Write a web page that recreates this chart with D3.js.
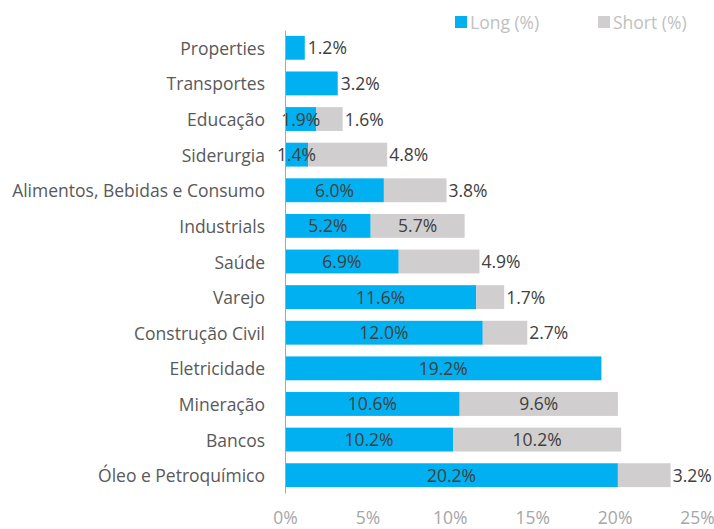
<!DOCTYPE html>
<html>
<head>
<meta charset="utf-8">
<script src="https://cdn.jsdelivr.net/npm/d3@7"></script>
<style>
  body{margin:0;background:#fff;}
  text{font-family:"Open Sans","Noto Sans",sans-serif;}
</style>
</head>
<body>
<svg id="drawing_region"></svg>
<script>
const categories = ["Properties","Transportes","Educação","Siderurgia","Alimentos, Bebidas e Consumo","Industrials","Saúde","Varejo","Construção Civil","Eletricidade","Mineração","Bancos","Óleo e Petroquímico"]
const long_values = [1.2,3.2,1.9,1.4,6.0,5.2,6.9,11.6,12.0,19.2,10.6,10.2,20.2]
const short_values = [0,0,1.6,4.8,3.8,5.7,4.9,1.7,2.7,0,9.6,10.2,3.2]
const tick_values = [0,5,10,15,20,25]
const series_names = ["Long (%)","Short (%)"]

const data = categories.map((c,i)=>({label:c,long:long_values[i],short:short_values[i]}))

const config = {
    width:714,
    height:529,
    margin:{top:30,right:17,bottom:36,left:285}
}
const colors = {long:"#00B0F0",short:"#D0CECE"}
const font_size = "17.5px"

const inner_width = config.width-config.margin.left-config.margin.right
const inner_height = config.height-config.margin.top-config.margin.bottom

const svg = d3.select("#drawing_region")
    .attr("width",config.width)
    .attr("height",config.height)

const chart = svg.append("g")
    .attr("transform",`translate(${config.margin.left},${config.margin.top})`)

const xscale = d3.scaleLinear()
    .domain([0,25])
    .range([0,inner_width])
const yscale = d3.scaleBand()
    .domain(categories)
    .range([0,inner_height])
    .paddingInner(0.33)
    .paddingOuter(0.165)

// bars
const rows = chart.selectAll(".row")
    .data(data)
    .enter()
    .append("g")
    .attr("class","row")
    .attr("transform",d=>`translate(0,${yscale(d.label)})`)

rows.append("rect")
    .attr("x",0)
    .attr("y",0)
    .attr("width",d=>xscale(d.long))
    .attr("height",yscale.bandwidth())
    .attr("fill",colors.long)

rows.filter(d=>d.short>0).append("rect")
    .attr("x",d=>xscale(d.long))
    .attr("y",0)
    .attr("width",d=>xscale(d.short))
    .attr("height",yscale.bandwidth())
    .attr("fill",colors.short)

const fmt = v=>v.toFixed(1)+"%"
const label_y = yscale.bandwidth()/2+6.5
const long_inside = d=>d.short>0 || d.long>=5

// long labels: centered, or after the bar when it is short and alone
rows.append("text")
    .attr("x",d=>long_inside(d) ? xscale(d.long/2) : xscale(d.long)+3)
    .attr("y",label_y)
    .attr("text-anchor",d=>long_inside(d) ? "middle" : "start")
    .attr("font-size",font_size)
    .attr("fill","#404040")
    .text(d=>fmt(d.long))

// short labels: centered if wide, else after the bar end
rows.filter(d=>d.short>0).append("text")
    .attr("x",d=>d.short>=5.5 ? xscale(d.long+d.short/2) : xscale(d.long+d.short)+2)
    .attr("y",label_y)
    .attr("text-anchor",d=>d.short>=5.5 ? "middle" : "start")
    .attr("font-size",font_size)
    .attr("fill","#404040")
    .text(d=>fmt(d.short))

// y axis
const yaxis = d3.axisLeft(yscale).tickSize(0).tickPadding(20)
const yaxis_group = chart.append("g").call(yaxis)
yaxis_group.select(".domain").attr("stroke","#a6a6a6").attr("stroke-width",1)
yaxis_group.selectAll("text")
    .attr("font-size",font_size)
    .attr("fill","#595959")
    .attr("font-family","'Open Sans','Noto Sans',sans-serif")
    .attr("dy","0.4em")

// x axis (labels only)
const xaxis = d3.axisBottom(xscale)
    .tickValues(tick_values)
    .tickFormat(d=>d+"%")
    .tickSize(0)
    .tickPadding(19)
const xaxis_group = chart.append("g")
    .attr("transform",`translate(0,${inner_height})`)
    .call(xaxis)
xaxis_group.select(".domain").remove()
xaxis_group.selectAll("text")
    .attr("font-size",font_size)
    .attr("fill","#a6a6a6")
    .attr("font-family","'Open Sans','Noto Sans',sans-serif")

// legend
const legend = svg.append("g")
const legend_x = [455,598]
series_names.forEach((name,i)=>{
    const g = legend.append("g").attr("transform",`translate(${legend_x[i]},16)`)
    g.append("rect")
        .attr("width",12)
        .attr("height",12)
        .attr("fill",i==0 ? colors.long : colors.short)
    g.append("text")
        .attr("x",15)
        .attr("y",13)
        .attr("font-size",font_size)
        .attr("fill","#bfbfbf")
        .text(name)
})
</script>
</body>
</html>
